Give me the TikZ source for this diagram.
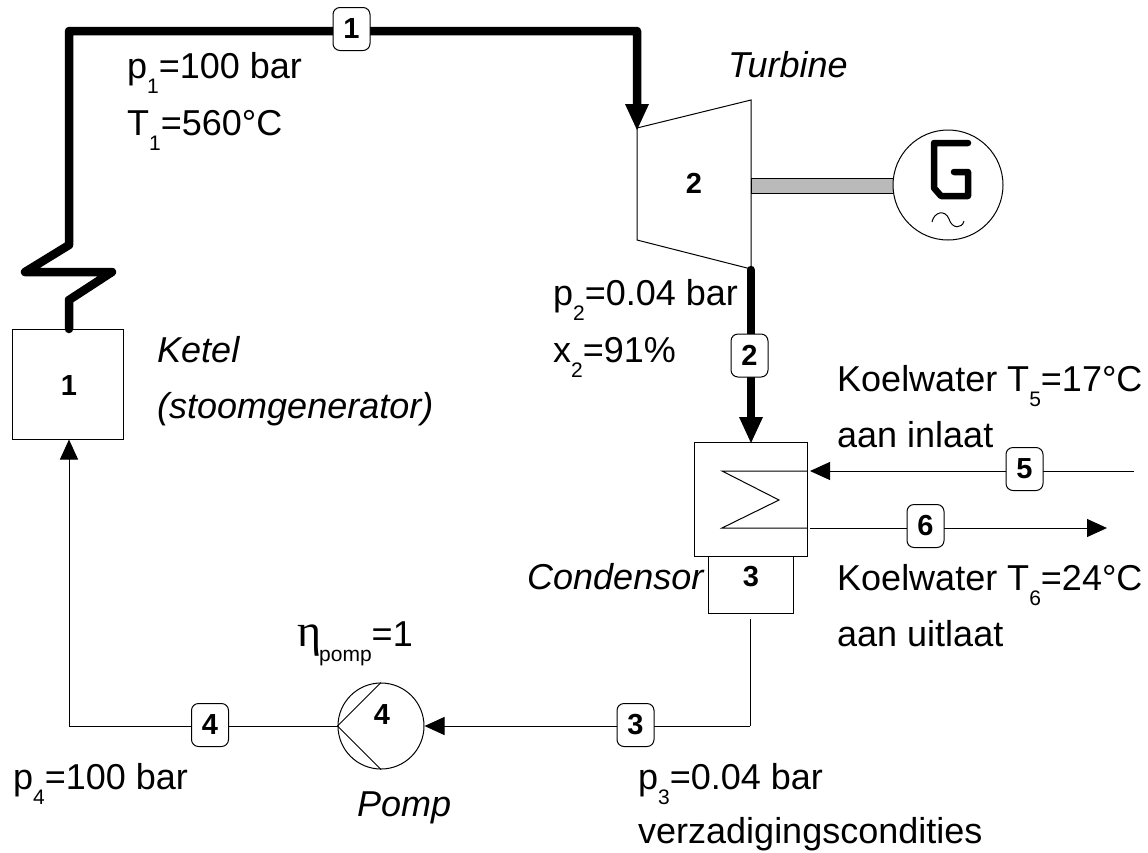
\documentclass[tikz,border=0pt]{standalone}
\usepackage{fontspec}
\setmainfont{Liberation Sans}
\newfontfamily\etafont{Liberation Serif}
\usetikzlibrary{arrows.meta}
\newcommand{\lsub}[1]{\raisebox{-15pt}{\fontsize{21}{21}\selectfont #1}}
\begin{document}
\begin{tikzpicture}[x=1pt,y=-1pt,
 thin line/.style={draw=black,line width=1pt},
 thick line/.style={draw=black,line width=8.5pt,line join=round,line cap=round},
 smallarrow/.style={-{Triangle[length=20pt,width=18pt]}},
 tag/.style={draw=black,fill=white,line width=1pt,rounded corners=7pt,minimum width=37pt,minimum height=43pt,inner sep=0pt,font=\fontsize{29}{29}\selectfont\bfseries},
 lab/.style={anchor=base west,inner sep=0pt,font=\fontsize{36}{36}\selectfont},
 ital/.style={lab,font=\fontsize{36}{36}\selectfont\itshape},
 num/.style={inner sep=0pt,font=\fontsize{29}{29}\selectfont\bfseries},
 box/.style={draw=black,line width=1pt,fill=white}]
\useasboundingbox[fill=white] (0,0) rectangle (1148,852);
% coordinates
\coordinate (ketelTop) at (69,329);
\coordinate (zz1) at (69,245);
\coordinate (zz2) at (25,272);
\coordinate (zz3) at (112,272);
\coordinate (zz4) at (69,300);
\coordinate (topL) at (69,31);
\coordinate (topR) at (637,31);
\coordinate (turbStem) at (637,106);
\coordinate (turbIn) at (637,130);
\coordinate (turbOut) at (751,270);
\coordinate (condStem) at (751,419);
\coordinate (condIn) at (751,443);
\coordinate (cw5in) at (1134,471);
\coordinate (cw5out) at (810,471);
\coordinate (cw6in) at (810,528);
\coordinate (cw6out) at (1107,528);
\coordinate (c3a) at (750,619);
\coordinate (c3b) at (750,726);
\coordinate (cl) at (69,726);
% shapes
\node[box,minimum width=111pt,minimum height=110pt,inner sep=0pt] (ketel) at (67.5,384) {};
\node[num] (n1) at (69,386) {1};
\draw[thin line,fill=white] (637,128) -- (751,100) -- (751,269) -- (637,240) -- cycle;
\node[num] (n2) at (694,183) {2};
\node[draw=black,fill=black!27,line width=1pt,minimum width=142pt,minimum height=15pt,inner sep=0pt] (shaft) at (822,185.5) {};
\node[circle,draw=black,line width=1pt,fill=white,minimum size=110pt,inner sep=0pt] (gen) at (948,185) {};
\draw[line width=6.5pt,line cap=round,line join=round] (968,143) -- (934,143) -- (934,188) -- (941,196) -- (968,196) -- (968,172) -- (954,172);
\draw[line width=1pt] (932,222) .. controls (934,212) and (945,209) .. (949,219) .. controls (952,229) and (962,229) .. (964,221);
\node[box,minimum width=113pt,minimum height=114pt,inner sep=0pt] (cond) at (750.5,499) {};
\node[box,minimum width=85pt,minimum height=57pt,inner sep=0pt] (hot) at (750.5,584.5) {};
\node[num] (n3) at (751,577) {3};
\draw[thin line] (807,471) -- (722,471) -- (779,500) -- (722,528) -- (807,528);
\node[circle,draw=black,line width=1pt,fill=white,minimum size=86pt,inner sep=0pt] (pump) at (381,726) {};
\draw[thin line] (pump.west) -- (pump.north);
\draw[thin line] (pump.west) -- (pump.south);
\node[num] (n4) at (382,715) {4};
% connectors
\draw[thick line] (ketelTop) -- (zz4) -- (zz3) -- (zz2) -- (zz1) -- (topL) -- (topR) -- (turbStem);
\draw[draw=none,fill=black] (turbIn) -- ++(-12,-26) -- ++(24,0) -- cycle;
\draw[thick line] (turbOut) -- (condStem);
\draw[draw=none,fill=black] (condIn) -- ++(-12,-26) -- ++(24,0) -- cycle;
\draw[thin line,smallarrow] (cw5in) -- (cw5out);
\draw[thin line,smallarrow] (cw6in) -- (cw6out);
\draw[thin line] (c3a) -- (c3b);
\draw[thin line,smallarrow] (c3b) -- (pump.east);
\draw[thin line,smallarrow] (pump.west) -- (cl) -- (ketel.south -| cl);
% tags
\node[tag] (t1) at (351.5,29) {1};
\node[tag] (t2) at (749.5,355.5) {2};
\node[tag] (t3) at (635.5,725) {3};
\node[tag] (t4) at (210,725) {4};
\node[tag] (t5) at (1024.5,469) {5};
\node[tag] (t6) at (925.5,526) {6};
% labels
\node[lab] (l1) at (127,78) {p\lsub{1}=100 bar};
\node[lab] (l2) at (127,135) {T\lsub{1}=560°C};
\node[ital] (l3) at (728,77) {Turbine};
\node[lab] (l4) at (553,305) {p\lsub{2}=0.04 bar};
\node[lab] (l5) at (553,362) {x\lsub{2}=91\%};
\node[ital] (l6) at (157,362) {Ketel};
\node[ital] (l7) at (157,418) {(stoomgenerator)};
\node[lab] (l8) at (837,391) {Koelwater T\lsub{5}=17°C};
\node[lab] (l9) at (837,447) {aan inlaat};
\node[ital] (l10) at (527,589) {Condensor};
\node[lab] (l11) at (837,590) {Koelwater T\lsub{6}=24°C};
\node[lab] (l12) at (837,646) {aan uitlaat};
\node[lab] (l13) at (297,646) {\makebox[22pt][l]{\fontsize{46}{46}\etafont η}\lsub{pomp}=1};
\node[lab] (l14) at (13,789) {p\lsub{4}=100 bar};
\node[ital] (l15) at (357,816) {Pomp};
\node[lab] (l16) at (638,789) {p\lsub{3}=0.04 bar};
\node[lab] (l17) at (638,843) {verzadigingscondities};
\end{tikzpicture}
\end{document}
